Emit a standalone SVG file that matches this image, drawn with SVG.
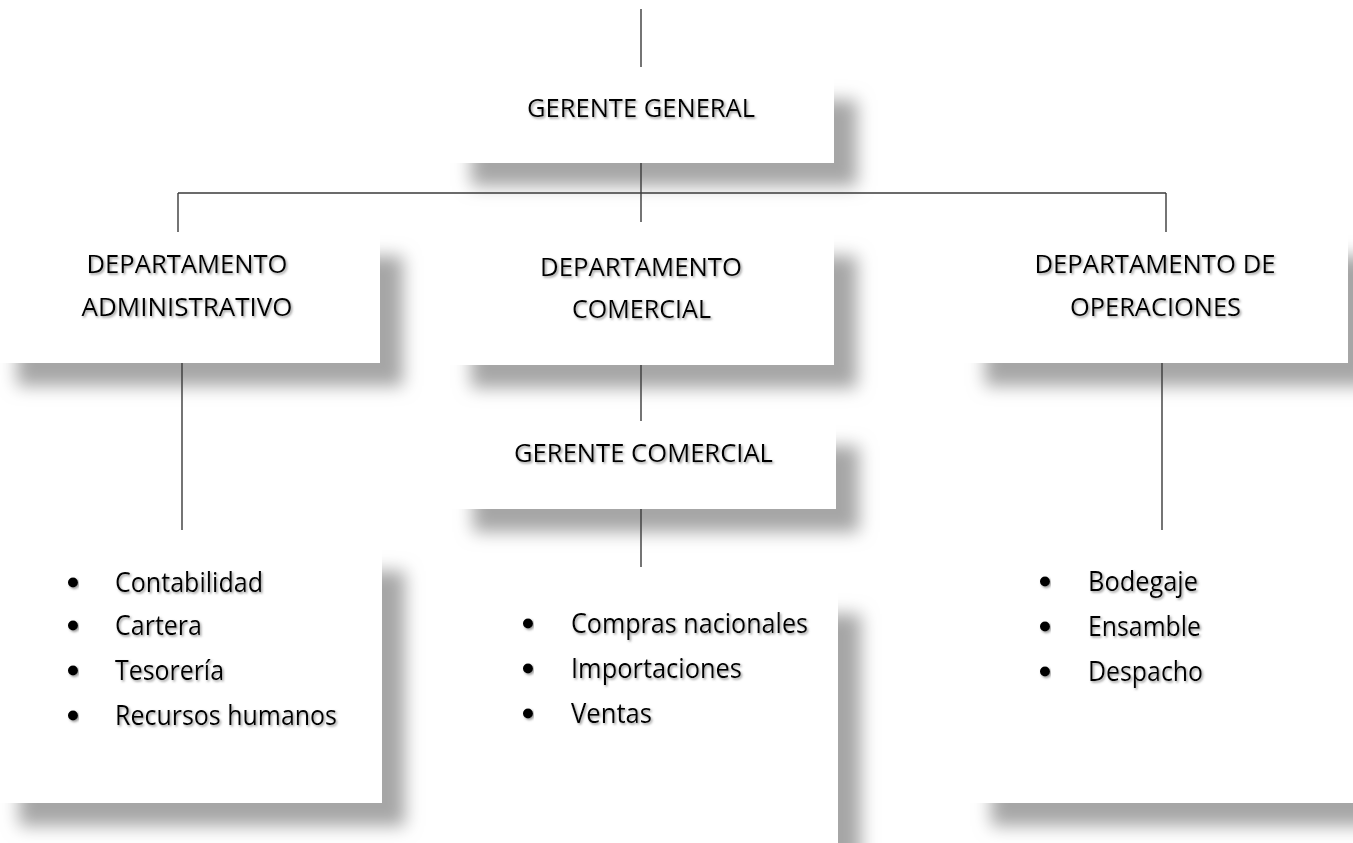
<svg xmlns="http://www.w3.org/2000/svg" width="1353" height="843" viewBox="0 0 1353 843">
<defs>
<filter id="boxShadow" x="-25%" y="-40%" width="160%" height="200%">
<feDropShadow dx="23" dy="23" stdDeviation="8.5" flood-color="#a6a6a6" flood-opacity="1"/>
</filter>
<filter id="txtShadow" x="-5%" y="-30%" width="115%" height="170%">
<feDropShadow dx="1.4" dy="1.6" stdDeviation="0.9" flood-color="#6e6e6e" flood-opacity="0.7"/>
</filter>
<style>
.box{fill:#ffffff;filter:url(#boxShadow);}
.h{font-family:"Open Sans","Liberation Sans",sans-serif;font-size:25px;fill:#000000;text-anchor:middle;filter:url(#txtShadow);}
.li{font-family:"Open Sans","Liberation Sans",sans-serif;font-size:26.5px;fill:#000000;filter:url(#txtShadow);}
.dot{fill:#000000;filter:url(#txtShadow);}
.ln{stroke:#3a3a3a;stroke-width:1.4;fill:none;}
</style>
</defs>
<rect width="1353" height="843" fill="#ffffff"/>

<g id="gerente-general">
<rect class="box" x="448" y="77" width="386" height="86"/>
<text class="h" x="641" y="117" textLength="228" lengthAdjust="spacingAndGlyphs">GERENTE GENERAL</text>
</g>

<g id="dep-administrativo">
<rect class="box" x="-6" y="233" width="386" height="130"/>
<text class="h" x="187" y="273" textLength="201" lengthAdjust="spacingAndGlyphs">DEPARTAMENTO</text>
<text class="h" x="187" y="316" textLength="211" lengthAdjust="spacingAndGlyphs">ADMINISTRATIVO</text>
</g>

<g id="dep-comercial">
<rect class="box" x="448" y="233" width="386" height="132"/>
<text class="h" x="641" y="276" textLength="202" lengthAdjust="spacingAndGlyphs">DEPARTAMENTO</text>
<text class="h" x="641.5" y="318" textLength="139" lengthAdjust="spacingAndGlyphs">COMERCIAL</text>
</g>

<g id="dep-operaciones">
<rect class="box" x="962" y="233" width="386" height="130"/>
<text class="h" x="1155" y="273" textLength="241" lengthAdjust="spacingAndGlyphs">DEPARTAMENTO DE</text>
<text class="h" x="1155.5" y="316" textLength="171" lengthAdjust="spacingAndGlyphs">OPERACIONES</text>
</g>

<g id="gerente-comercial">
<rect class="box" x="450" y="423" width="386" height="86"/>
<text class="h" x="643.5" y="462" textLength="259" lengthAdjust="spacingAndGlyphs">GERENTE COMERCIAL</text>
</g>

<g id="lista-administrativo">
<rect class="box" x="-4" y="548" width="386" height="255"/>
<circle class="dot" cx="73" cy="582.5" r="5"/>
<circle class="dot" cx="73" cy="625.5" r="5"/>
<circle class="dot" cx="73" cy="670.5" r="5"/>
<circle class="dot" cx="73" cy="715.5" r="5"/>
<text class="li" x="115" y="592" textLength="148" lengthAdjust="spacingAndGlyphs">Contabilidad</text>
<text class="li" x="115" y="635" textLength="87" lengthAdjust="spacingAndGlyphs">Cartera</text>
<text class="li" x="115" y="680" textLength="109" lengthAdjust="spacingAndGlyphs">Tesorería</text>
<text class="li" x="115" y="725" textLength="222" lengthAdjust="spacingAndGlyphs">Recursos humanos</text>
</g>

<g id="lista-comercial">
<rect class="box" x="453" y="591" width="385" height="320"/>
<circle class="dot" cx="528" cy="623.5" r="5"/>
<circle class="dot" cx="528" cy="668.5" r="5"/>
<circle class="dot" cx="528" cy="713.5" r="5"/>
<text class="li" x="571" y="633" textLength="237" lengthAdjust="spacingAndGlyphs">Compras nacionales</text>
<text class="li" x="571" y="678" textLength="171" lengthAdjust="spacingAndGlyphs">Importaciones</text>
<text class="li" x="571" y="723" textLength="81" lengthAdjust="spacingAndGlyphs">Ventas</text>
</g>

<g id="lista-operaciones">
<rect class="box" x="968" y="549" width="420" height="254"/>
<circle class="dot" cx="1045" cy="581.5" r="5"/>
<circle class="dot" cx="1045" cy="626.5" r="5"/>
<circle class="dot" cx="1045" cy="671.5" r="5"/>
<text class="li" x="1088" y="591" textLength="110" lengthAdjust="spacingAndGlyphs">Bodegaje</text>
<text class="li" x="1088" y="636" textLength="113" lengthAdjust="spacingAndGlyphs">Ensamble</text>
<text class="li" x="1088" y="681" textLength="115" lengthAdjust="spacingAndGlyphs">Despacho</text>
</g>

<g id="connectors">
<line class="ln" x1="641" y1="9" x2="641" y2="67"/>
<line class="ln" x1="641" y1="163" x2="641" y2="222"/>
<line class="ln" x1="178" y1="193" x2="1166" y2="193"/>
<line class="ln" x1="178" y1="193" x2="178" y2="232"/>
<line class="ln" x1="1166" y1="193" x2="1166" y2="232"/>
<line class="ln" x1="182" y1="363" x2="182" y2="530"/>
<line class="ln" x1="641" y1="365" x2="641" y2="421"/>
<line class="ln" x1="641" y1="509" x2="641" y2="567"/>
<line class="ln" x1="1162" y1="363" x2="1162" y2="530"/>
</g>
</svg>
